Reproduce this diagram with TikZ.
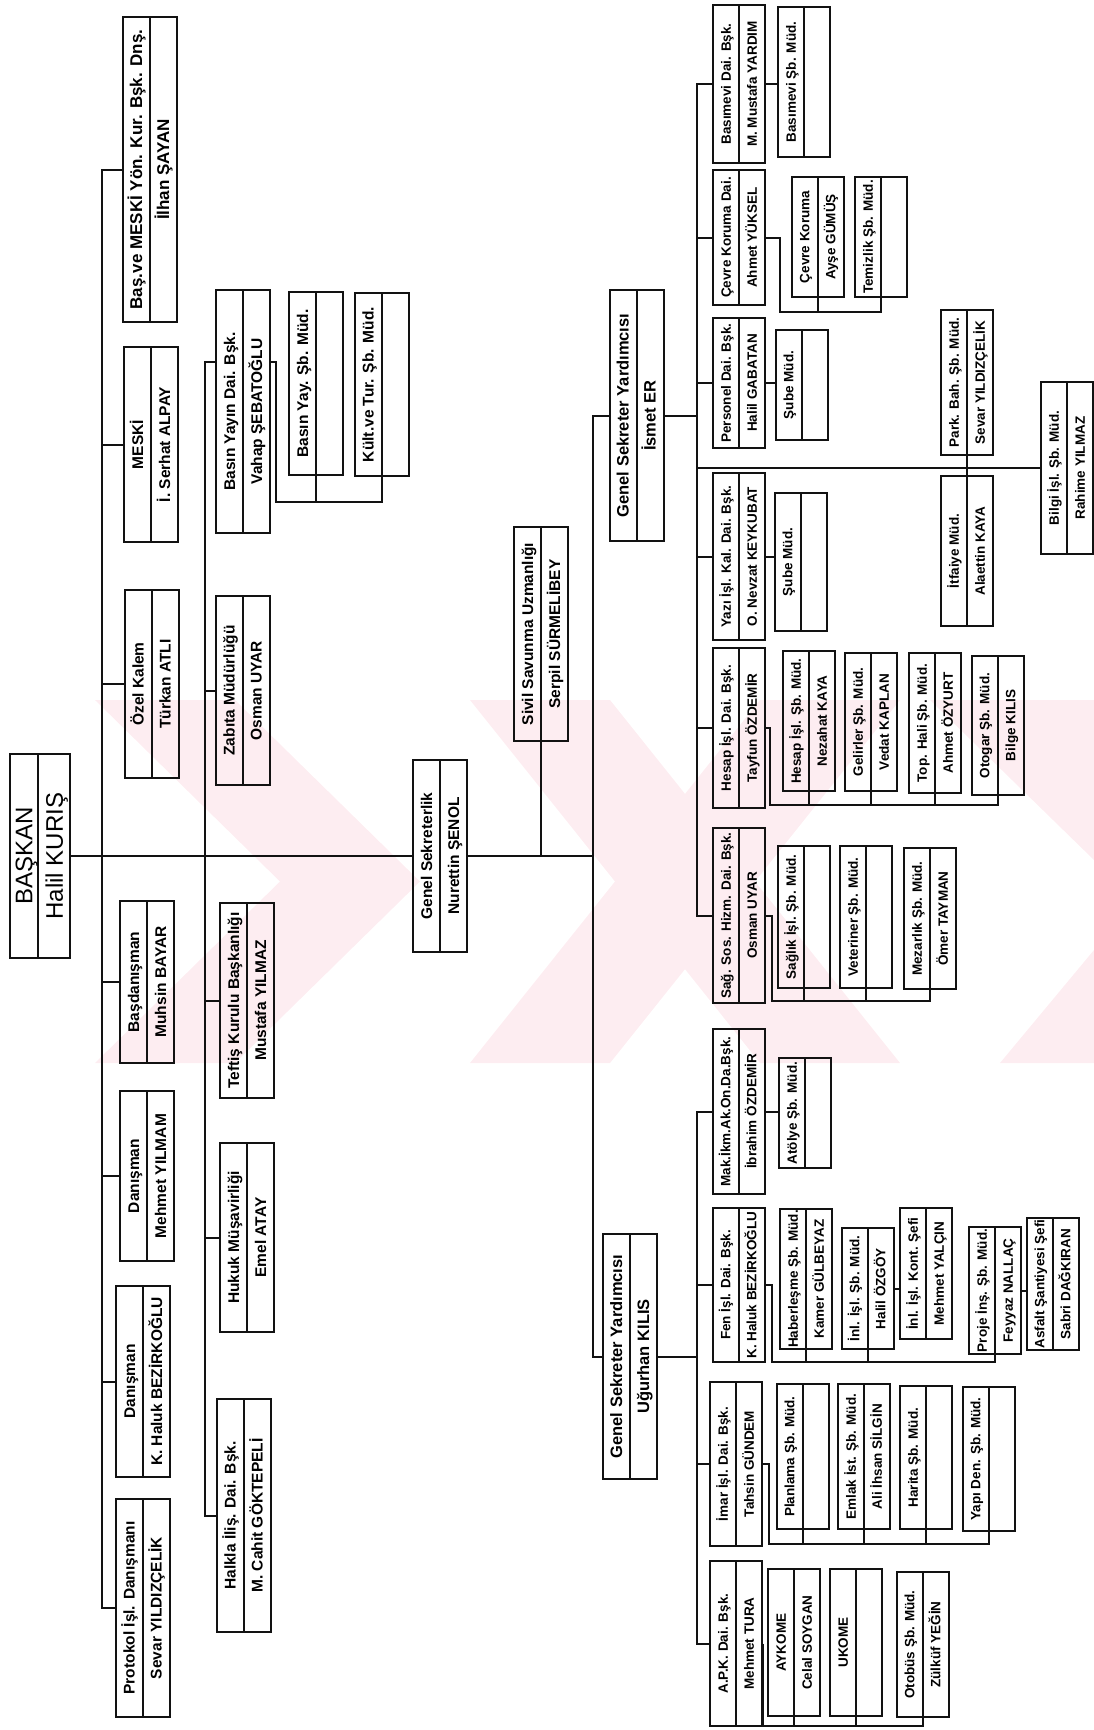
\documentclass[tikz,border=0pt]{standalone}
\usepackage{fontspec}
\setmainfont{Liberation Sans}
\usetikzlibrary{shapes.multipart}
\definecolor{orgInk}{RGB}{18,18,18}
\definecolor{orgMark}{RGB}{253,237,241}
\newcommand{\cellstrut}{\rule[-7.2pt]{0pt}{24pt}}
\newcommand{\widestrut}{\rule[-7pt]{0pt}{25pt}}
\newcommand{\headstrut}{\rule[-4.4pt]{0pt}{26pt}}
\newcommand{\headstrutb}{\rule[-6.4pt]{0pt}{30pt}}

\begin{document}
\begin{tikzpicture}[x=1pt,y=-1pt,
  unit/.style={draw=orgInk,line width=2pt,rectangle split,rectangle split parts=2,
               rotate=90,inner xsep=1.5pt,inner ysep=0pt,minimum width=#1pt,
               font=\fontsize{13.5}{14}\selectfont\bfseries},
  leftunit/.style={unit=#1,font=\fontsize{15.5}{16}\selectfont\bfseries},
  bigunit/.style={unit=#1,font=\fontsize{15.5}{16}\selectfont\bfseries},
  headunit/.style={unit=#1,font=\fontsize{24}{26}\selectfont},
  link/.style={draw=orgInk,line width=2pt}]
\useasboundingbox (0,0) rectangle (1094,1730);

% faint watermark behind the chart
\begin{scope}
\clip (84,700) rectangle (1094,1063);
\fill[orgMark] (95,700) -- (235,700) -- (420,881.5) -- (235,1063) -- (95,1063) -- (280,881.5) -- cycle;
\fill[orgMark] (470,700) -- (610,700) -- (900,1063) -- (760,1063) -- cycle;
\fill[orgMark] (760,700) -- (900,700) -- (610,1063) -- (470,1063) -- cycle;
\fill[orgMark] (930,700) -- (1094,700) -- (1094,1063) -- (1000,1063) -- (1094,950) -- (1094,860) -- cycle;
\end{scope}

% centre
\node[headunit=204] (baskan) at (40,856) {\headstrut BAŞKAN\nodepart{two}\headstrutb Halil KURIŞ};
\node[bigunit=192] (gensek) at (440,856) {\widestrut Genel Sekreterlik\nodepart{two}\widestrut Nurettin ŞENOL};
\node[bigunit=214] (sivil) at (541,634) {\widestrut Sivil Savunma Uzmanlığı\nodepart{two}\widestrut Serpil SÜRMELİBEY};
\node[bigunit=251,font=\fontsize{16.5}{17}\selectfont\bfseries] (gsy1) at (636.5,415.5) {\widestrut Genel Sekreter Yardımcısı\nodepart{two}\widestrut İsmet ER};
\node[bigunit=245,font=\fontsize{16.5}{17}\selectfont\bfseries] (gsy2) at (630,1356.5) {\widestrut Genel Sekreter Yardımcısı\nodepart{two}\widestrut Uğurhan KILIS};

% left staff
\node[leftunit=305,font=\fontsize{17}{18}\selectfont\bfseries] (meskiyon) at (150,169.5) {\widestrut Baş.ve MESKİ Yön. Kur. Bşk. Dnş.\nodepart{two}\widestrut İlhan ŞAYAN};
\node[leftunit=195] (meski) at (151,444.5) {\widestrut MESKİ\nodepart{two}\widestrut İ. Serhat ALPAY};
\node[leftunit=188] (ozel) at (151.5,684) {\widestrut Özel Kalem\nodepart{two}\widestrut Türkan ATLI};
\node[leftunit=162] (basdan) at (147,982) {\widestrut Başdanışman\nodepart{two}\widestrut Muhsin BAYAR};
\node[leftunit=170] (dan1) at (147,1176) {\widestrut Danışman\nodepart{two}\widestrut Mehmet YILMAM};
\node[leftunit=191] (dan2) at (143,1381.5) {\widestrut Danışman\nodepart{two}\widestrut K. Haluk BEZİRKOĞLU};
\node[leftunit=218] (protokol) at (142.5,1608) {\widestrut Protokol İşl. Danışmanı\nodepart{two}\widestrut Sevar YILDIZÇELİK};

% left departments
\node[leftunit=243] (basin) at (243,411.5) {\widestrut Basın Yayın Dai. Bşk.\nodepart{two}\widestrut Vahap ŞEBATOĞLU};
\node[leftunit=183] (basyay) at (316,383.5) {\widestrut Basın Yay. Şb. Müd.\nodepart{two}\widestrut};
\node[leftunit=183] (kultur) at (381.5,384.5) {\widestrut Kült.ve Tur. Şb. Müd.\nodepart{two}\widestrut};
\node[leftunit=189] (zabita) at (242.5,690.5) {\widestrut Zabıta Müdürlüğü\nodepart{two}\widestrut Osman UYAR};
\node[leftunit=195] (teftis) at (247,1000.5) {\widestrut Teftiş Kurulu Başkanlığı\nodepart{two}\widestrut Mustafa YILMAZ};
\node[leftunit=189] (hukuk) at (247,1237.5) {\widestrut Hukuk Müşavirliği\nodepart{two}\widestrut Emel ATAY};
\node[leftunit=233] (halkla) at (243.5,1515.5) {\widestrut Halkla İliş. Dai. Bşk.\nodepart{two}\widestrut M. Cahit GÖKTEPELİ};

% upper right
\node[unit=158] (basimevi) at (739,84) {\cellstrut Basımevi Dai. Bşk.\nodepart{two}\cellstrut M. Mustafa YARDIM};
\node[unit=150] (basimsb) at (804,82) {\cellstrut Basımevi Şb. Müd.\nodepart{two}\cellstrut};
\node[unit=135] (cevre) at (739,237.5) {\cellstrut Çevre Koruma Dai.\nodepart{two}\cellstrut Ahmet YÜKSEL};
\node[unit=120] (cevrek) at (817.5,237) {\cellstrut Çevre Koruma\nodepart{two}\cellstrut Ayşe GÜMÜŞ};
\node[unit=120] (temiz) at (881,237) {\cellstrut Temizlik Şb. Müd.\nodepart{two}\cellstrut};
\node[unit=130] (personel) at (739,383) {\cellstrut Personel Dai. Bşk.\nodepart{two}\cellstrut Halil GABATAN};
\node[unit=110] (subep) at (801.5,385) {\cellstrut Şube Müd.\nodepart{two}\cellstrut};
\node[unit=145] (park) at (967,382.5) {\cellstrut Park. Bah. Şb. Müd.\nodepart{two}\cellstrut Sevar YILDIZÇELİK};
\node[unit=172] (bilgi) at (1067,468) {\cellstrut Bilgi İşl. Şb. Müd.\nodepart{two}\cellstrut Rahime YILMAZ};
\node[unit=150] (itfaiye) at (967,551) {\cellstrut İtfaiye Müd.\nodepart{two}\cellstrut Alaettin KAYA};
\node[unit=167] (yazi) at (739,556.5) {\cellstrut Yazı İşl. Kal. Dai. Bşk.\nodepart{two}\cellstrut O. Nevzat KEYKUBAT};
\node[unit=138] (subey) at (800.5,562) {\cellstrut Şube Müd.\nodepart{two}\cellstrut};
\node[unit=160] (hesap) at (739,728) {\cellstrut Hesap İşl. Dai. Bşk.\nodepart{two}\cellstrut Tayfun ÖZDEMİR};
\node[unit=140] (hesapsb) at (809,721) {\cellstrut Hesap İşl. Şb. Müd.\nodepart{two}\cellstrut Nezahat KAYA};
\node[unit=138] (gelir) at (871,722) {\cellstrut Gelirler Şb. Müd.\nodepart{two}\cellstrut Vedat KAPLAN};
\node[unit=140] (tah) at (935,723) {\cellstrut Top. Hali Şb. Müd.\nodepart{two}\cellstrut Ahmet ÖZYURT};
\node[unit=139] (otogar) at (997.5,725.5) {\cellstrut Otogar Şb. Müd.\nodepart{two}\cellstrut Bilge KILIS};
\node[unit=175] (sag) at (739,915.5) {\cellstrut Sağ. Sos. Hizm. Dai. Bşk.\nodepart{two}\cellstrut Osman UYAR};
\node[unit=142] (saglik) at (804,917) {\cellstrut Sağlık İşl. Şb. Müd.\nodepart{two}\cellstrut};
\node[unit=142] (vet) at (866,917) {\cellstrut Veteriner Şb. Müd.\nodepart{two}\cellstrut};
\node[unit=141] (mezar) at (930,918.5) {\cellstrut Mezarlık Şb. Müd.\nodepart{two}\cellstrut Ömer TAYMAN};

% lower right
\node[unit=165] (mak) at (738.5,1111.5) {\cellstrut Mak.İkm.Ak.On.Da.Bşk.\nodepart{two}\cellstrut İbrahim ÖZDEMİR};
\node[unit=110] (atolye) at (805,1113) {\cellstrut Atölye Şb. Müd.\nodepart{two}\cellstrut};
\node[unit=154] (fen) at (738.5,1285) {\cellstrut Fen İşl. Dai. Bşk.\nodepart{two}\cellstrut K. Haluk BEZİRKOĞLU};
\node[unit=140] (haber) at (806,1279) {\cellstrut Haberleşme Şb. Müd.\nodepart{two}\cellstrut Kamer GÜLBEYAZ};
\node[unit=121] (inl1) at (867.5,1288.5) {\cellstrut İnl. İşl. Şb. Müd.\nodepart{two}\cellstrut Halil ÖZGÖY};
\node[unit=131] (inl2) at (926,1273.5) {\cellstrut İnl. İşl. Kont. Şefi\nodepart{two}\cellstrut Mehmet YALÇIN};
\node[unit=123] (proje) at (995,1290.5) {\cellstrut Proje İnş. Şb. Müd.\nodepart{two}\cellstrut Feyyaz NALLAÇ};
\node[unit=130] (asfalt) at (1052.5,1284) {\cellstrut Asfalt Şantiyesi Şefi\nodepart{two}\cellstrut Sabri DAĞKIRAN};
\node[unit=164] (imar) at (736,1464) {\cellstrut İmar İşl. Dai. Bşk.\nodepart{two}\cellstrut Tahsin GÜNDEM};
\node[unit=145] (plan) at (802.5,1456.5) {\cellstrut Planlama Şb. Müd.\nodepart{two}\cellstrut};
\node[unit=145] (emlak) at (864,1456.5) {\cellstrut Emlak İst. Şb. Müd.\nodepart{two}\cellstrut Ali İhsan SİLGİN};
\node[unit=143] (harita) at (926,1457.5) {\cellstrut Harita Şb. Müd.\nodepart{two}\cellstrut};
\node[unit=144] (yapi) at (988.5,1459) {\cellstrut Yapı Den. Şb. Müd.\nodepart{two}\cellstrut};
\node[unit=165] (apk) at (736,1643.5) {\cellstrut A.P.K. Dai. Bşk.\nodepart{two}\cellstrut Mehmet TURA};
\node[unit=147] (aykome) at (794,1642.5) {\cellstrut AYKOME\nodepart{two}\cellstrut Celal SOYGAN};
\node[unit=147] (ukome) at (856,1642.5) {\cellstrut UKOME\nodepart{two}\cellstrut};
\node[unit=145] (otobus) at (922.5,1644.5) {\cellstrut Otobüs Şb. Müd.\nodepart{two}\cellstrut Zülküf YEĞİN};

% trunk lines
\coordinate (basinjoin) at (205,362);
\coordinate (gsv) at (593,0);
\coordinate (rv) at (697,0);
\draw[link] (baskan.south) -- (gensek.north);
\draw[link] (gensek.south) -- (gensek.south -| gsv);
\draw[link] (sivil.west) -- (sivil.west |- gensek.south);
\draw[link] (gsy1.north) -- (gsy1.north -| gsv) |- (gsy2.north);
\draw[link] (meskiyon.north) -- ++(-20,0) coordinate (lv) |- (protokol.north);
\foreach \b in {meski,ozel,basdan,dan1,dan2}
  \draw[link] (\b.north) -- (\b.north -| lv);
\draw[link] (basinjoin -| basin.north) -- (basinjoin) |- (halkla.north);
\foreach \b in {zabita,teftis,hukuk}
  \draw[link] (\b.north) -- (\b.north -| basinjoin);

% right trunks
\draw[link] (basimevi.north) -- (basimevi.north -| rv) |- (sag.north);
\foreach \b in {cevre,personel,yazi,hesap,bilgi}
  \draw[link] (\b.north) -- (\b.north -| rv);
\draw[link] (gsy1.south) -- (gsy1.south -| rv);
\draw[link] (mak.north) -- (mak.north -| rv) |- (apk.north);
\foreach \b in {fen,imar}
  \draw[link] (\b.north) -- (\b.north -| rv);
\draw[link] (gsy2.south) -- (gsy2.south -| rv);
\draw[link] (park.west) -- (itfaiye.east);

% sub-unit brackets
\coordinate (basinbar) at (276,502);
\draw[link] (basinjoin -| basin.south) -| (basinbar) -| (kultur.west);
\draw[link] (basyay.west) -- (basyay.west |- basinbar);
\draw[link] (basimevi.south) -- (basimevi.south -| basimsb.north);
\coordinate (cevrebar) at (780,312);
\draw[link] (cevre.south) -| (cevrebar) -| (temiz.west);
\draw[link] (cevrek.west) -- (cevrek.west |- cevrebar);
\draw[link] (personel.south) -- (personel.south -| subep.north);
\draw[link] (yazi.south) -- (yazi.south -| subey.north);
\coordinate (hesapbar) at (770,805);
\draw[link] (hesap.south) -| (hesapbar) -| (otogar.west);
\foreach \c in {hesapsb,gelir,tah}
  \draw[link] (\c.west) -- (\c.west |- hesapbar);
\coordinate (sagbar) at (772,1001);
\draw[link] (sag.south) -| (sagbar) -| (mezar.west);
\foreach \c in {saglik,vet}
  \draw[link] (\c.west) -- (\c.west |- sagbar);
\draw[link] (mak.south) -- (mak.south -| atolye.north);
\coordinate (fenbar) at (772,1362);
\draw[link] (fen.south) -| (fenbar) -| (proje.west);
\foreach \c in {haber,inl1}
  \draw[link] (\c.west) -- (\c.west |- fenbar);
\draw[link] (inl1.south) -- (inl1.south -| inl2.north);
\draw[link] (proje.south) -- (proje.south -| asfalt.north);
\coordinate (imarbar) at (769,1544);
\draw[link] (imar.south) -| (imarbar) -| (yapi.west);
\foreach \c in {plan,emlak,harita}
  \draw[link] (\c.west) -- (\c.west |- imarbar);
\coordinate (apkbar) at (763,1726);
\draw[link] (apk.south) -| (apkbar) -| (otobus.west);
\foreach \c in {aykome,ukome}
  \draw[link] (\c.west) -- (\c.west |- apkbar);
\end{tikzpicture}
\end{document}
